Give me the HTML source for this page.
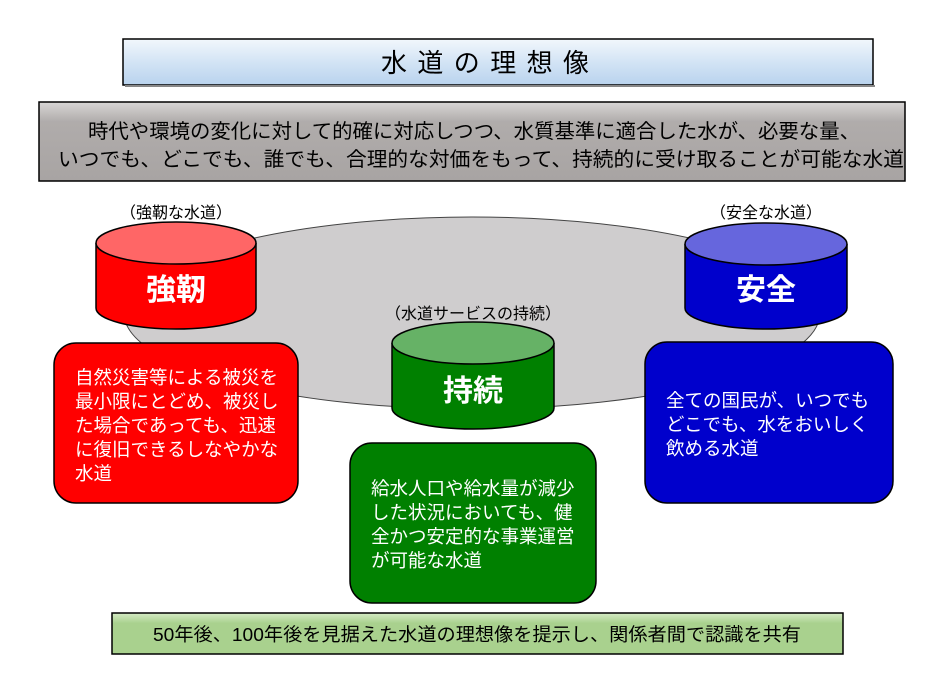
<!DOCTYPE html>
<html><head><meta charset="utf-8"><style>
html,body{margin:0;padding:0;background:#fff;}
svg{display:block;}
text{font-family:"Liberation Sans","Noto Sans CJK JP",sans-serif;}
</style></head><body>
<svg width="945" height="698" viewBox="0 0 945 698" xmlns="http://www.w3.org/2000/svg">
<defs>
<linearGradient id="gb" x1="0" y1="0" x2="0" y2="1"><stop offset="0" stop-color="#f2f7fc"/><stop offset="0.5" stop-color="#d3e4f5"/><stop offset="1" stop-color="#b9d3ee"/></linearGradient>
<linearGradient id="gg" x1="0" y1="0" x2="0" y2="1"><stop offset="0" stop-color="#d8d6d5"/><stop offset="0.25" stop-color="#b0acab"/><stop offset="1" stop-color="#a8a4a3"/></linearGradient>
<linearGradient id="gn" x1="0" y1="0" x2="0" y2="1"><stop offset="0" stop-color="#d6ebc6"/><stop offset="0.25" stop-color="#a9d18e"/><stop offset="1" stop-color="#a9d18e"/></linearGradient>
</defs>
<rect x="123" y="39" width="750" height="46" fill="url(#gb)" stroke="#000" stroke-width="1.5"/>
<rect x="125" y="85" width="750" height="2" fill="#888"/>
<text x="381" y="72" font-size="26" textLength="208" lengthAdjust="spacing">水道の理想像</text>
<rect x="39" y="102" width="866" height="79" fill="url(#gg)" stroke="#000" stroke-width="1.5"/>
<text x="88" y="138" font-size="20" textLength="772" lengthAdjust="spacingAndGlyphs">時代や環境の変化に対して的確に対応しつつ、水質基準に適合した水が、必要な量、</text>
<text x="58" y="166" font-size="20" textLength="846" lengthAdjust="spacingAndGlyphs">いつでも、どこでも、誰でも、合理的な対価をもって、持続的に受け取ることが可能な水道</text>

<ellipse cx="472" cy="313" rx="348" ry="96" fill="#cfcdce" stroke="#444" stroke-width="1"/>

<path d="M96 243 V308 A80 21 0 0 0 256 308 V243" fill="#ff0000" stroke="#000" stroke-width="1.5"/>
<ellipse cx="176" cy="243" rx="80" ry="21" fill="#ff6666" stroke="#000" stroke-width="1.5"/>
<text x="176" y="300" font-size="30" fill="#fff" text-anchor="middle" font-weight="bold">強靭</text>
<text x="176" y="218" font-size="16" text-anchor="middle">（強靭な水道）</text>

<path d="M685 244 V308 A81 21 0 0 0 847 308 V244" fill="#0000cc" stroke="#000" stroke-width="1.5"/>
<ellipse cx="766" cy="244" rx="81" ry="21" fill="#6666dd" stroke="#000" stroke-width="1.5"/>
<text x="766" y="300" font-size="30" fill="#fff" text-anchor="middle" font-weight="bold">安全</text>
<text x="766" y="218" font-size="16" text-anchor="middle">（安全な水道）</text>

<path d="M392 343 V408 A81 21 0 0 0 554 408 V343" fill="#008000" stroke="#000" stroke-width="1.5"/>
<ellipse cx="473" cy="343" rx="81" ry="21" fill="#66b266" stroke="#000" stroke-width="1.5"/>
<text x="473" y="401" font-size="30" fill="#fff" text-anchor="middle" font-weight="bold">持続</text>
<text x="473" y="319" font-size="16" text-anchor="middle">（水道サービスの持続）</text>

<rect x="54" y="343" width="244" height="160" rx="22" fill="#ff0000" stroke="#000" stroke-width="1.5"/>
<g font-size="18.5" fill="#fff">
<text x="75" y="384">自然災害等による被災を</text>
<text x="75" y="408">最小限にとどめ、被災し</text>
<text x="75" y="432">た場合であっても、迅速</text>
<text x="75" y="456">に復旧できるしなやかな</text>
<text x="75" y="480">水道</text>
</g>

<rect x="645" y="342" width="248" height="161" rx="22" fill="#0000cc" stroke="#000" stroke-width="1.5"/>
<g font-size="18.5" fill="#fff">
<text x="666" y="407">全ての国民が、いつでも</text>
<text x="666" y="431">どこでも、水をおいしく</text>
<text x="666" y="455">飲める水道</text>
</g>

<rect x="350" y="443" width="246" height="160" rx="22" fill="#008000" stroke="#000" stroke-width="1.5"/>
<g font-size="18.5" fill="#fff">
<text x="371" y="495">給水人口や給水量が減少</text>
<text x="371" y="519">した状況においても、健</text>
<text x="371" y="543">全かつ安定的な事業運営</text>
<text x="371" y="567">が可能な水道</text>
</g>

<rect x="112" y="613" width="731" height="41" fill="url(#gn)" stroke="#000" stroke-width="1.5"/>
<text x="153" y="641" font-size="18.5" textLength="648" lengthAdjust="spacingAndGlyphs">50年後、100年後を見据えた水道の理想像を提示し、関係者間で認識を共有</text>
</svg>
</body></html>
